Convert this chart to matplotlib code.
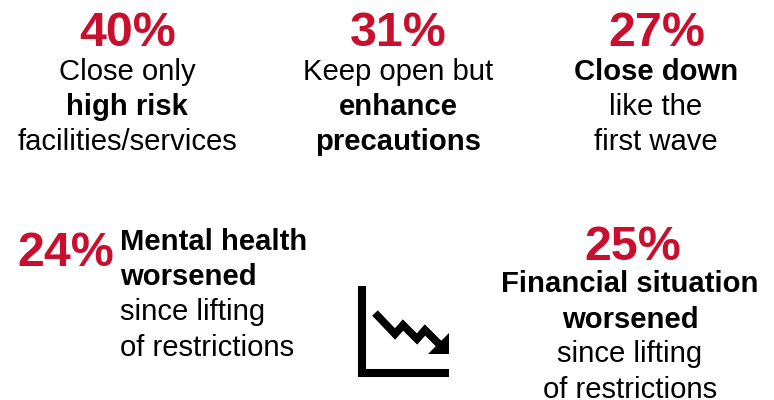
import matplotlib
matplotlib.use("Agg")
import matplotlib.pyplot as plt
from matplotlib.lines import Line2D
from matplotlib.patches import Polygon

plt.rcParams['font.family'] = ['Liberation Sans', 'DejaVu Sans']
RED = '#C8102E'
W, H = 774, 400

top_percents = ['40%', '31%', '27%']
top_pct_x = [128, 398, 657]
top_body_x = [127, 398, 656]
top_lines = [
    [('Close only', 'normal'), ('high risk', 'bold'), ('facilities/services', 'normal')],
    [('Keep open but', 'normal'), ('enhance', 'bold'), ('precautions', 'bold')],
    [('Close down', 'bold'), ('like the', 'normal'), ('first wave', 'normal')],
]
left_percent = '24%'
left_lines = [('Mental health', 'bold'), ('worsened', 'bold'), ('since lifting', 'normal'), ('of restrictions', 'normal')]
right_percent = '25%'
right_lines = [('Financial situation', 'bold'), ('worsened', 'bold'), ('since lifting', 'normal'), ('of restrictions', 'normal')]

fig = plt.figure(figsize=(W/100, H/100), dpi=100)
ax = fig.add_axes([0, 0, 1, 1])
ax.set_xlim(0, W)
ax.set_ylim(H, 0)
ax.axis('off')

PCT = 34.8
BODY = 21.1
for p, xp, xb, lines in zip(top_percents, top_pct_x, top_body_x, top_lines):
    ax.text(xp, 34, p, color=RED, fontsize=PCT, fontweight='bold', ha='center', va='center')
    for i, (t, w) in enumerate(lines):
        ax.text(xb, 71.5 + 35.2*i, t, color='black', fontsize=BODY, fontweight=w, ha='center', va='center')

ax.text(66, 254, left_percent, color=RED, fontsize=PCT, fontweight='bold', ha='center', va='center')
for i, (t, w) in enumerate(left_lines):
    ax.text(120, 242 + 35.2*i, t, color='black', fontsize=BODY, fontweight=w, ha='left', va='center')

ax.text(632.5, 248, right_percent, color=RED, fontsize=PCT, fontweight='bold', ha='center', va='center')
for i, (t, w) in enumerate(right_lines):
    ax.text(630, 284.5 + 35*i, t, color='black', fontsize=BODY, fontweight=w, ha='center', va='center')

# chart-down icon
ax.add_line(Line2D([361.5, 361.5, 449], [286, 373, 373], color='black', lw=5.8,
                   solid_joinstyle='miter', solid_capstyle='butt'))
ax.add_line(Line2D([375, 395, 403, 417, 425, 442], [313, 334, 325, 339, 330, 347], color='black', lw=5.6,
                   solid_joinstyle='miter', solid_capstyle='butt'))
ax.add_patch(Polygon([[449, 333], [449, 354], [428, 354]], closed=True, color='black', lw=0))

fig.savefig('out.png', dpi=100)
